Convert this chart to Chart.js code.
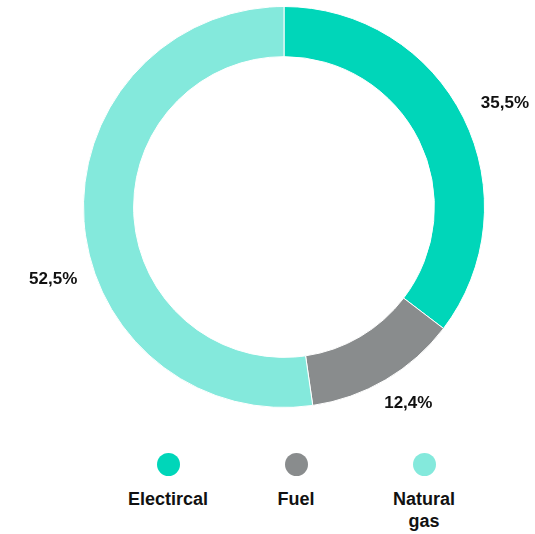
<!DOCTYPE html>
<html>
<head>
<meta charset="utf-8">
<script src="https://cdn.jsdelivr.net/npm/chart.js@4/dist/chart.umd.min.js"></script>
<style>
  html, body { margin: 0; padding: 0; background: #fff; }
  #wrap { position: relative; width: 535px; height: 534px; font-family: "Liberation Sans", Arial, sans-serif; }
  #chart-box { position: absolute; left: 0; top: 0; width: 535px; height: 420px; }
  #legend { position: absolute; left: 104px; top: 453px; display: grid; grid-template-columns: 128px 128px 128px; }
  .item { display: flex; flex-direction: column; align-items: center; }
  .dot { width: 23px; height: 23px; border-radius: 50%; }
  .txt { margin-top: 12px; font-weight: bold; font-size: 18px; line-height: 22px; color: #111; text-align: center; max-width: 80px; }
</style>
</head>
<body>
<div id="wrap">
  <div id="chart-box"><canvas id="chart"></canvas></div>
  <div id="legend"></div>
</div>
<script>
// data
const categories = ["Electircal", "Fuel", "Natural gas"];
const shares = [35.5, 12.4, 52.5];
const shareLabels = ["35,5%", "12,4%", "52,5%"];
const colors = ["#00d6b9", "#898c8d", "#84e9dc"];

// label placement tweaks (degrees / px outside the ring)
const labelAngleShift = [1, -2, -13];
const labelGap = [44, 31, 41];

//draw the percentage labels outside the ring
const outsideLabels = {
  id: "outsideLabels",
  afterDatasetsDraw(chart) {
    const ctx = chart.ctx;
    const meta = chart.getDatasetMeta(0);
    ctx.save();
    ctx.font = "bold 17px 'Liberation Sans', Arial, sans-serif";
    ctx.fillStyle = "#111";
    ctx.textAlign = "center";
    ctx.textBaseline = "middle";
    meta.data.forEach((arc, i) => {
      const p = arc.getProps(["x", "y", "startAngle", "endAngle", "outerRadius"], true);
      const mid = (p.startAngle + p.endAngle) / 2 + (labelAngleShift[i] * Math.PI) / 180;
      const r = p.outerRadius + labelGap[i];
      ctx.fillText(shareLabels[i], p.x + Math.cos(mid) * r, p.y + Math.sin(mid) * r + 1);
    });
    ctx.restore();
  },
};

new Chart(document.getElementById("chart"), {
  type: "doughnut",
  data: {
    labels: categories,
    datasets: [
      {
        data: shares,
        backgroundColor: colors,
        borderColor: "#ffffff",
        borderWidth: 1,
        hoverOffset: 0,
      },
    ],
  },
  options: {
    responsive: true,
    maintainAspectRatio: false,
    animation: false,
    cutout: "75%",
    layout: { padding: { left: 33, right: 0, top: 6, bottom: 12 } },
    plugins: {
      legend: { display: false },
      tooltip: { enabled: false },
    },
  },
  plugins: [outsideLabels],
});

//legend built from the same arrays
const legend = document.getElementById("legend");
categories.forEach((name, i) => {
  const item = document.createElement("div");
  item.className = "item";
  const dot = document.createElement("div");
  dot.className = "dot";
  dot.style.background = colors[i];
  const txt = document.createElement("div");
  txt.className = "txt";
  txt.textContent = name;
  item.appendChild(dot);
  item.appendChild(txt);
  legend.appendChild(item);
});
</script>
</body>
</html>
